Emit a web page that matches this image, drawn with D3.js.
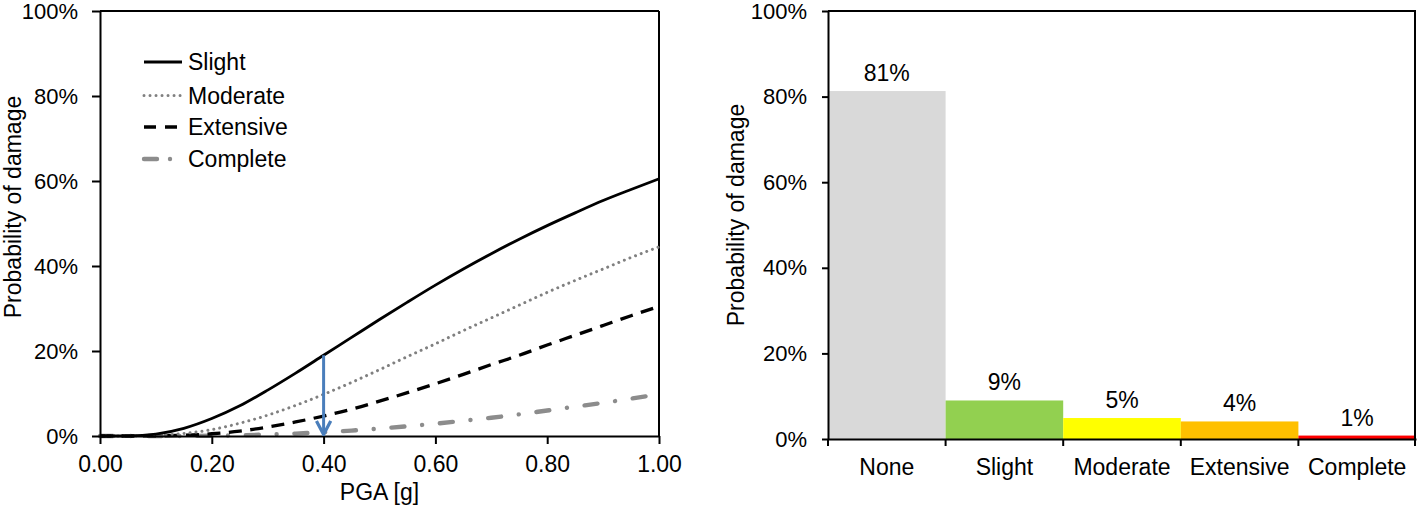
<!DOCTYPE html>
<html>
<head>
<meta charset="utf-8">
<script src="https://cdn.jsdelivr.net/npm/d3@7"></script>
<style>
  html, body { margin: 0; padding: 0; background: #fff; }
  svg { display: block; font-family: "Liberation Sans", Arial, sans-serif; }
</style>
</head>
<body>
<svg id="chart" width="1417" height="509"></svg>
<script>
// ---------------- Data ----------------
const pga = [0.00, 0.05, 0.10, 0.15, 0.20, 0.25, 0.30, 0.35, 0.40, 0.45, 0.50,
             0.55, 0.60, 0.65, 0.70, 0.75, 0.80, 0.85, 0.90, 0.95, 1.00];
const slight    = [0, 0.0003, 0.0045, 0.018, 0.041, 0.071, 0.108, 0.148, 0.190, 0.232, 0.274,
                   0.315, 0.355, 0.393, 0.429, 0.463, 0.495, 0.525, 0.554, 0.580, 0.605];
const moderate  = [0, 0.0001, 0.0012, 0.006, 0.015, 0.030, 0.049, 0.072, 0.098, 0.126, 0.156,
                   0.187, 0.217, 0.248, 0.278, 0.308, 0.338, 0.366, 0.393, 0.420, 0.445];
const extensive = [0, 0, 0.0003, 0.0017, 0.0053, 0.0115, 0.021, 0.033, 0.047, 0.063, 0.082,
                   0.102, 0.123, 0.145, 0.168, 0.190, 0.214, 0.237, 0.260, 0.283, 0.305];
const complete  = [0, 0, 0, 0.0002, 0.0007, 0.0017, 0.0034, 0.0057, 0.0088, 0.0127, 0.0175,
                   0.023, 0.029, 0.036, 0.043, 0.051, 0.060, 0.069, 0.078, 0.088, 0.098];
const seriesNames = ["Slight", "Moderate", "Extensive", "Complete"];
const arrowPGA = 0.40;

const damageStates = ["None", "Slight", "Moderate", "Extensive", "Complete"];
const damageProb   = [0.813, 0.090, 0.049, 0.041, 0.008];
const barLabels    = ["81%", "9%", "5%", "4%", "1%"];

const xTicks = [0, 0.2, 0.4, 0.6, 0.8, 1.0];
const yTicks = [0, 0.2, 0.4, 0.6, 0.8, 1.0];

// ---------------- Styles ----------------
const lineStyles = [
  { color: "#000000", width: 2.8, dash: null, cap: "butt" },
  { color: "#808080", width: 3,   dash: "0.01,6", cap: "round" },
  { color: "#000000", width: 3.3, dash: "13,8.5", cap: "butt" },
  { color: "#8c8c8c", width: 4.4, dash: "13,17.8,0.01,17.8", cap: "round" }
];
const barColors = ["#d9d9d9", "#92d050", "#ffff00", "#ffc000", "#ff0000"];
const FS = 23;      // legend, titles, labels
const TFS = 22;     // tick labels
const FONT = '"Liberation Sans", Arial, sans-serif';

const svg = d3.select("#chart");

// ================= LEFT CHART =================
const xL = d3.scaleLinear().domain([0, 1]).range([100, 659]);
const yL = d3.scaleLinear().domain([0, 1]).range([436, 11]);

const gL = svg.append("g");

// frame (top & right)
gL.append("line").attr("x1", xL(0)).attr("x2", xL(1)).attr("y1", yL(1)).attr("y2", yL(1))
  .attr("stroke", "#000").attr("stroke-width", 2);
gL.append("line").attr("x1", xL(1)).attr("x2", xL(1)).attr("y1", yL(1)).attr("y2", yL(0))
  .attr("stroke", "#000").attr("stroke-width", 2);

// series
const allSeries = [slight, moderate, extensive, complete];
const lineGen = d3.line().x((d, i) => xL(pga[i])).y(d => yL(d)).curve(d3.curveMonotoneX);

for (let s = allSeries.length - 1; s >= 0; s--) {
  const st = lineStyles[s];
  gL.append("path")
    .datum(allSeries[s])
    .attr("d", lineGen)
    .attr("fill", "none")
    .attr("stroke", st.color)
    .attr("stroke-width", st.width)
    .attr("stroke-linecap", st.cap)
    .attr("stroke-dasharray", st.dash);
}

// axes
const axL = gL.append("g").attr("transform", `translate(${xL(0)},0)`)
  .call(d3.axisLeft(yL).tickValues(yTicks).tickFormat(d3.format(".0%")).tickSize(8).tickSizeOuter(0).tickPadding(14));
const axB = gL.append("g").attr("transform", `translate(0,${yL(0)})`)
  .call(d3.axisBottom(xL).tickValues(xTicks).tickFormat(d3.format(".2f")).tickSize(8).tickSizeOuter(0).tickPadding(12));
[axL, axB].forEach(a => {
  a.select(".domain").attr("stroke", "#000").attr("stroke-width", 2);
  a.selectAll(".tick line").attr("stroke", "#000").attr("stroke-width", 2);
  a.selectAll(".tick text").attr("fill", "#000").style("font-size", TFS + "px")
    .style("font-family", FONT);
});
axB.selectAll(".tick text").style("font-size", FS + "px");

// arrow
const defs = svg.append("defs");
defs.append("marker")
  .attr("id", "arrowHead")
  .attr("viewBox", "0 0 10 10")
  .attr("refX", 9).attr("refY", 5)
  .attr("markerWidth", 17).attr("markerHeight", 17)
  .attr("markerUnits", "userSpaceOnUse")
  .attr("orient", "auto")
  .append("path")
  .attr("d", "M1,0.8 L9,5 L1,9.2")
  .attr("fill", "none")
  .attr("stroke", "#4a7ebb")
  .attr("stroke-width", 1.9)
  .attr("stroke-linejoin", "miter");
const arrowIdx = pga.indexOf(arrowPGA);
gL.append("line")
  .attr("x1", xL(arrowPGA)).attr("x2", xL(arrowPGA))
  .attr("y1", yL(slight[arrowIdx])).attr("y2", yL(0) - 1.5)
  .attr("stroke", "#4a7ebb").attr("stroke-width", 3)
  .attr("marker-end", "url(#arrowHead)");

// legend
const legendRows = [62, 95.5, 127, 159];
seriesNames.forEach((name, i) => {
  const st = lineStyles[i];
  const x0 = 144, len = 38;
  gL.append("line")
    .attr("x1", x0).attr("x2", x0 + len)
    .attr("y1", legendRows[i]).attr("y2", legendRows[i])
    .attr("stroke", st.color).attr("stroke-width", st.width)
    .attr("stroke-linecap", st.cap)
    .attr("stroke-dasharray", i === 3 ? "13,13,0.01,13" : (i === 2 ? "12,9" : st.dash));
  gL.append("text")
    .attr("x", 188).attr("y", legendRows[i]).attr("dy", "0.35em")
    .style("font-size", FS + "px").attr("fill", "#000")
    .text(name);
});

// axis titles
gL.append("text")
  .attr("x", (xL(0) + xL(1)) / 2).attr("y", 500)
  .attr("text-anchor", "middle").style("font-size", FS + "px")
  .text("PGA [g]");
gL.append("text")
  .attr("transform", `translate(21,207) rotate(-90)`)
  .attr("text-anchor", "middle").style("font-size", FS + "px")
  .text("Probability of damage");

// ================= RIGHT CHART =================
const xR = d3.scaleBand().domain(damageStates).range([828, 1416]).padding(0);
const yR = d3.scaleLinear().domain([0, 1]).range([439, 11]);
const gR = svg.append("g");

// bars
gR.selectAll("rect.bar")
  .data(damageStates)
  .join("rect")
  .attr("class", "bar")
  .attr("x", d => xR(d))
  .attr("width", xR.bandwidth())
  .attr("y", (d, i) => yR(damageProb[i]))
  .attr("height", (d, i) => yR(0) - yR(damageProb[i]))
  .attr("fill", (d, i) => barColors[i]);

// bar labels
gR.selectAll("text.blab")
  .data(damageStates)
  .join("text")
  .attr("class", "blab")
  .attr("x", d => xR(d) + xR.bandwidth() / 2)
  .attr("y", (d, i) => yR(damageProb[i]) - 10)
  .attr("text-anchor", "middle")
  .style("font-size", FS + "px")
  .text((d, i) => barLabels[i]);

// frame
gR.append("line").attr("x1", xR.range()[0]).attr("x2", xR.range()[1]).attr("y1", yR(1)).attr("y2", yR(1))
  .attr("stroke", "#000").attr("stroke-width", 2);
gR.append("line").attr("x1", xR.range()[1] - 1).attr("x2", xR.range()[1] - 1).attr("y1", yR(1)).attr("y2", yR(0))
  .attr("stroke", "#000").attr("stroke-width", 2);

// y axis
const axRL = gR.append("g").attr("transform", `translate(${xR.range()[0]},0)`)
  .call(d3.axisLeft(yR).tickValues(yTicks).tickFormat(d3.format(".0%")).tickSize(6).tickSizeOuter(0).tickPadding(15));
// x axis (labels centred, ticks at boundaries)
const axRB = gR.append("g").attr("transform", `translate(0,${yR(0)})`)
  .call(d3.axisBottom(xR).tickSize(0).tickSizeOuter(0).tickPadding(20));
axRB.selectAll(".tick line").remove();
const boundaries = damageStates.map(d => xR(d)).concat([xR.range()[1] - 1]);
gR.selectAll("line.btick").data(boundaries).join("line")
  .attr("class", "btick")
  .attr("x1", d => d).attr("x2", d => d)
  .attr("y1", yR(0)).attr("y2", yR(0) + 7)
  .attr("stroke", "#000").attr("stroke-width", 2);
[axRL, axRB].forEach(a => {
  a.select(".domain").attr("stroke", "#000").attr("stroke-width", 2);
  a.selectAll(".tick line").attr("stroke", "#000").attr("stroke-width", 2);
  a.selectAll(".tick text").attr("fill", "#000").style("font-size", TFS + "px")
    .style("font-family", FONT);
});
axRB.selectAll(".tick text").style("font-size", FS + "px");

gR.append("text")
  .attr("transform", `translate(744,215) rotate(-90)`)
  .attr("text-anchor", "middle").style("font-size", FS + "px")
  .text("Probability of damage");
</script>
</body>
</html>
